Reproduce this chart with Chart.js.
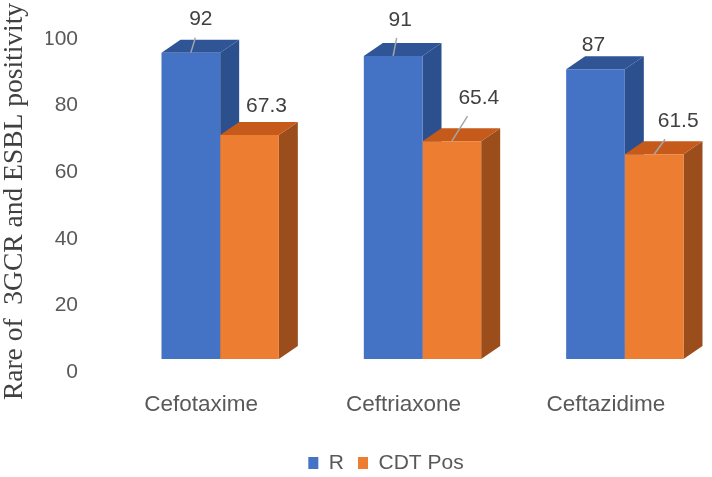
<!DOCTYPE html>
<html>
  <head>
    <script src="https://cdn.jsdelivr.net/npm/chart.js@4"></script>
    <style>
      html, body { margin: 0; overflow: hidden; background: #fff; }
    </style>
  </head>
  <body>
    <!-- canvas is a bit wider than the window: the last bar's 3d side sits near the edge -->
    <canvas id="canvas" width="726" height="477"></canvas>
    <script>
      const drugs = ['Cefotaxime', 'Ceftriaxone', 'Ceftazidime'];
      const resistant = [92, 91, 87];
      const cdtPos = [67.3, 65.4, 61.5];
      const yTicks = [0, 20, 40, 60, 80, 100];

      const FONT = '"Liberation Sans", Arial, sans-serif';
      // depth of the fake 3d extrusion
      const DX = 19, DY = 13;
      const shades = [
        { front: '#4472C4', top: '#2F5597', side: '#2C4F8E' },
        { front: '#ED7D31', top: '#C55A1B', side: '#9C4D1C' },
      ];
      // label nudges [dx, dy, leader line] from the front top of each bar
      const nudges = [
        [[10, -33, true], [7, -36, true], [-2, -24, false]],
        [[17, -29, false], [27, -43, true], [24, -33, true]],
      ];

      const bars3d = {
        id: 'bars3d',
        beforeDatasetsDraw(chart) {
          const ctx = chart.ctx;
          chart.data.datasets.forEach((ds, i) => {
            const s = shades[i];
            chart.getDatasetMeta(i).data.forEach((bar) => {
              const { x, y, base, width } = bar.getProps(['x', 'y', 'base', 'width'], true);
              const l = x - width / 2, r = x + width / 2;
              ctx.fillStyle = s.side;
              ctx.beginPath();
              ctx.moveTo(r, y);
              ctx.lineTo(r + DX, y - DY);
              ctx.lineTo(r + DX, base - DY);
              ctx.lineTo(r, base);
              ctx.closePath();
              ctx.fill();
              ctx.fillStyle = s.top;
              ctx.beginPath();
              ctx.moveTo(l, y);
              ctx.lineTo(l + DX, y - DY);
              ctx.lineTo(r + DX, y - DY);
              ctx.lineTo(r, y);
              ctx.closePath();
              ctx.fill();
            });
          });
        },
        afterDatasetsDraw(chart) {
          const ctx = chart.ctx;
          ctx.save();
          ctx.font = '21px ' + FONT;
          ctx.textAlign = 'center';
          ctx.textBaseline = 'middle';
          chart.data.datasets.forEach((ds, i) => {
            chart.getDatasetMeta(i).data.forEach((bar, j) => {
              const { x, y } = bar.getProps(['x', 'y'], true);
              const [nx, ny, line] = nudges[i][j];
              const lx = x + nx, ly = y + ny;
              if (line) {
                const ey = ly + 18;
                const t = (y - ey) / (y - ly);
                ctx.strokeStyle = '#A6A6A6';
                ctx.lineWidth = 1.5;
                ctx.beginPath();
                ctx.moveTo(x, y);
                ctx.lineTo(x + t * (lx - x), ey);
                ctx.stroke();
              }
              ctx.fillStyle = '#404040';
              ctx.fillText(String(ds.data[j]), lx, ly);
            });
          });
          ctx.restore();
        },
      };

      new Chart(document.getElementById('canvas').getContext('2d'), {
        type: 'bar',
        data: {
          labels: drugs,
          datasets: [
            { label: 'R', data: resistant, backgroundColor: shades[0].front },
            { label: 'CDT Pos', data: cdtPos, backgroundColor: shades[1].front },
          ],
        },
        options: {
          responsive: false,
          animation: false,
          events: [],
          layout: { padding: { left: 46, right: 0, top: 26, bottom: -6.5 } },
          datasets: { bar: { categoryPercentage: 0.58, barPercentage: 1, borderWidth: 0 } },
          scales: {
            x: {
              grid: { display: false, drawTicks: false },
              border: { display: false },
              ticks: {
                color: '#595959',
                font: { family: FONT, size: 22.5 },
                padding: 14,
                labelOffset: -19,
                maxRotation: 0,
              },
              afterFit: (s) => { s.height = 61.5; },
            },
            y: {
              // plot floor runs a little below zero so the axis title centres like the original
              min: -5.4,
              max: 100,
              grid: { display: false, drawTicks: false },
              border: { display: false },
              afterBuildTicks: (s) => { s.ticks = yTicks.map((v) => ({ value: v })); },
              ticks: {
                color: '#595959',
                font: { family: FONT, size: 21 },
                padding: 41,
                labelOffset: 13,
              },
              title: {
                display: true,
                text: 'Rare of  3GCR and ESBL positivity',
                color: '#404040',
                font: { family: '"Liberation Serif", "Times New Roman", serif', size: 27.5, weight: 'normal' },
                padding: { top: -48, bottom: 0 },
              },
              afterFit: (s) => {
                s.width = 73;
                // the wide tick padding should not push the plot down
                s.paddingTop = 0;
                s.paddingBottom = 0;
              },
            },
          },
          plugins: {
            tooltip: { enabled: false },
            legend: {
              position: 'bottom',
              labels: {
                boxWidth: 10,
                boxHeight: 12,
                padding: 14,
                color: '#595959',
                font: { family: FONT, size: 21 },
              },
            },
          },
        },
        plugins: [bars3d],
      });
    </script>
  </body>
</html>
